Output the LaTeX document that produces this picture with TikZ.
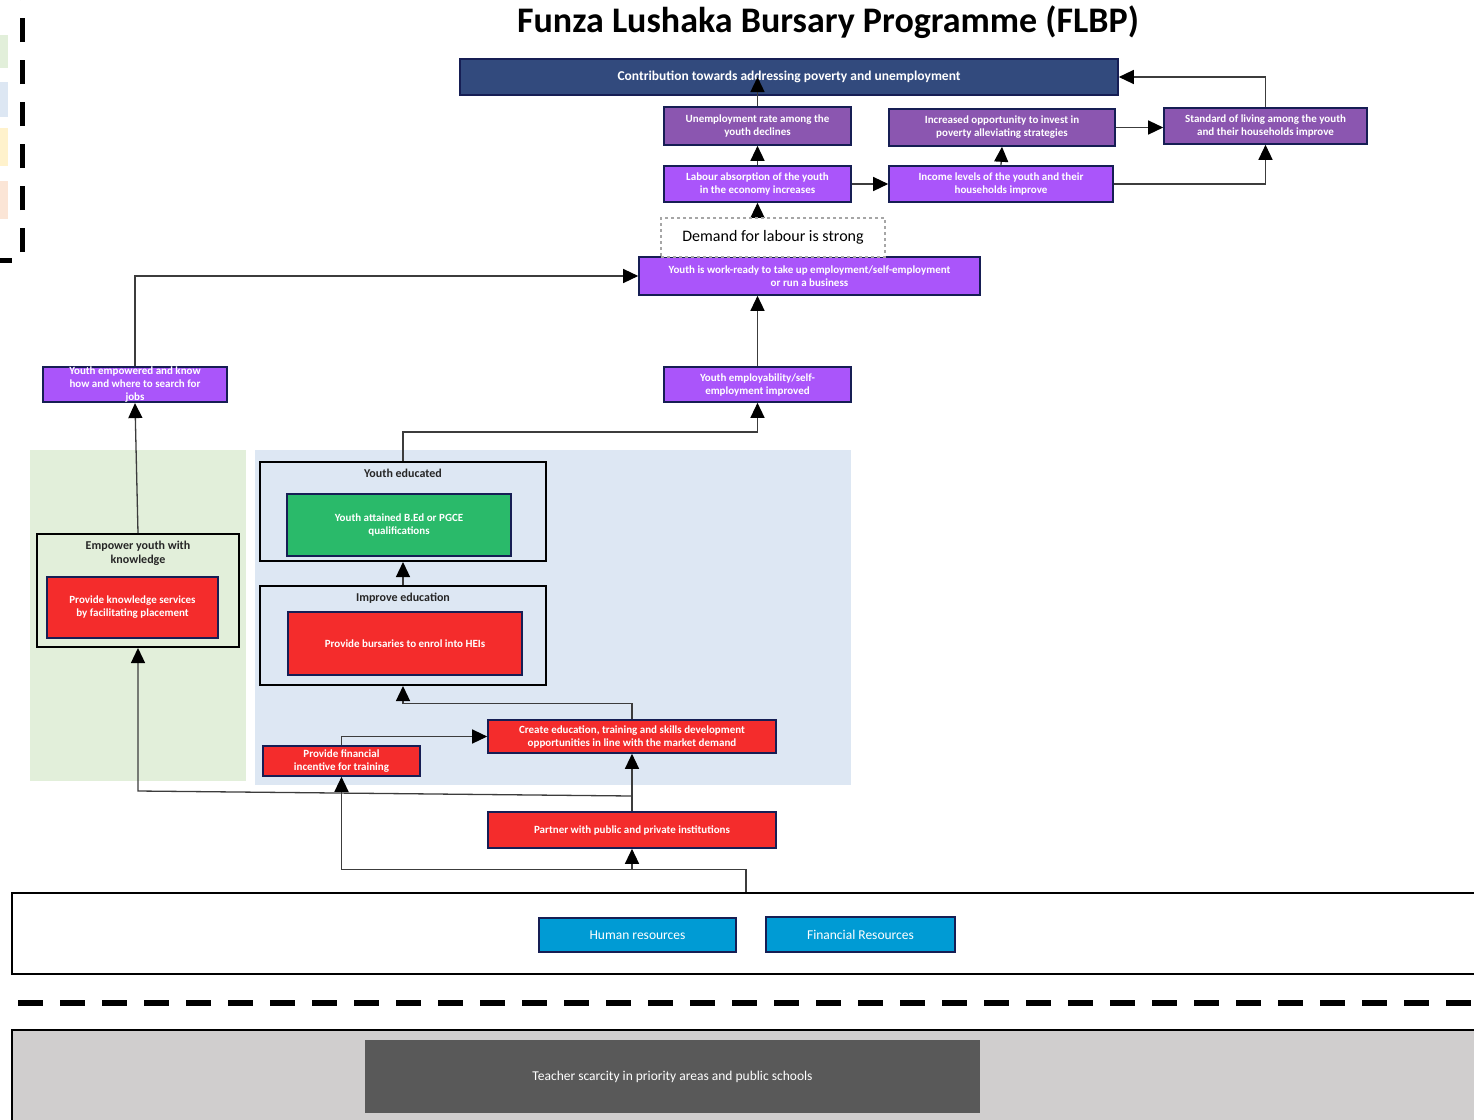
\documentclass[tikz,border=0pt]{standalone}
\usepackage{fontspec}
\setmainfont{Carlito}
\usepackage{tikz}
\usetikzlibrary{arrows.meta, positioning}

\definecolor{impactblue}{RGB}{50,74,125}
\definecolor{outcomepurple}{RGB}{139,86,176}
\definecolor{outputpurple}{RGB}{170,85,250}
\definecolor{activityred}{RGB}{244,44,44}
\definecolor{qualgreen}{RGB}{42,186,106}
\definecolor{resourceblue}{RGB}{0,155,212}
\definecolor{navyline}{RGB}{22,30,84}
\definecolor{linegrey}{RGB}{60,60,60}
\definecolor{knowgreen}{RGB}{226,239,218}
\definecolor{edublue}{RGB}{221,231,243}
\definecolor{keyyellow}{RGB}{255,242,204}
\definecolor{keypink}{RGB}{251,229,214}
\definecolor{contextgrey}{RGB}{208,206,206}
\definecolor{problemgrey}{RGB}{89,89,89}

\begin{document}
\begin{tikzpicture}[x=1pt, y=-1pt]
\tikzstyle{box} = [draw=navyline, line width=1.6pt, text=white, align=center, inner sep=0pt, font=\fontsize{11}{13}\selectfont\bfseries]
\tikzstyle{impact} = [box, fill=impactblue, font=\fontsize{13.5}{15}\selectfont\bfseries]
\tikzstyle{outcome} = [box, fill=outcomepurple]
\tikzstyle{result} = [box, fill=outputpurple]
\tikzstyle{activity} = [box, fill=activityred]
\tikzstyle{qualification} = [box, fill=qualgreen]
\tikzstyle{resource} = [box, fill=resourceblue, font=\fontsize{13.5}{15}\selectfont]
\tikzstyle{group} = [draw=black, line width=2pt, inner sep=0pt]
\tikzstyle{grouptitle} = [anchor=north, align=center, text=black!85, font=\fontsize{12}{14}\selectfont\bfseries]
\tikzstyle{frame} = [draw=black, line width=2.5pt, inner sep=0pt]
\tikzstyle{edge} = [draw=linegrey, line width=1.3pt, -{Triangle[length=15pt,width=14pt,color=black]}]

\clip (0,0) rectangle (1474,1119);

% legend strip, mostly off the page
\fill[knowgreen] (-2,35) rectangle (8,68);
\fill[edublue] (-2,82) rectangle (8,117);
\fill[keyyellow] (-2,128) rectangle (8,166);
\fill[keypink] (-2,181) rectangle (8,219);
\draw[line width=5pt, dash pattern=on 24pt off 18pt] (-12,260) -- (22,260) -- (22,-30);

\node[font=\fontsize{36}{40}\selectfont\bfseries] (title) at (828,22) {Funza Lushaka Bursary Programme (FLBP)};

% backgrounds
\fill[knowgreen] (30,450) rectangle (246,781);
\fill[edublue] (255,450) rectangle (851,785);

\node[impact, minimum width=658, minimum height=36] (contrib) at (789,77) {Contribution towards addressing poverty and unemployment};

\node[outcome, minimum width=187, minimum height=38] (unemp) at (757.5,126) {Unemployment rate among the\\youth declines};
\node[outcome, minimum width=226, minimum height=37] (invest) at (1002,127.5) {Increased opportunity to invest in\\poverty alleviating strategies};
\node[outcome, minimum width=203, minimum height=36] (standard) at (1265.5,126) {Standard of living among the youth\\and their households improve};

\node[result, minimum width=187, minimum height=36] (labour) at (757.5,184) {Labour absorption of the youth\\in the economy increases};
\node[result, minimum width=224, minimum height=36] (income) at (1001,184) {Income levels of the youth and their\\households improve};
\node[result, minimum width=341, minimum height=38] (workready) at (809.5,276) {Youth is work-ready to take up employment/self-employment\\or run a business};
\node[result, minimum width=187, minimum height=35] (employ) at (757.5,384.5) {Youth employability/self-\\employment improved};
\node[result, minimum width=184, minimum height=35] (empowered) at (135,384.5) {Youth empowered and know\\how and where to search for\\jobs};

\node[group, minimum width=202, minimum height=113] (empower) at (138,590.5) {};
\node[grouptitle, below=5pt of empower.north] (empowertitle) {Empower youth with\\knowledge};
\node[activity, minimum width=171, minimum height=61] (knowledge) at (132.5,607.5) {Provide knowledge services\\by facilitating placement};

\node[group, minimum width=286, minimum height=99] (educated) at (403,511.5) {};
\node[grouptitle, below=5pt of educated.north] (educatedtitle) {Youth educated};
\node[qualification, minimum width=224, minimum height=62] (attained) at (399,525) {Youth attained B.Ed or PGCE\\qualifications};

\node[group, minimum width=286, minimum height=99] (improve) at (403,635.5) {};
\node[grouptitle, below=5pt of improve.north] (improvetitle) {Improve education};
\node[activity, minimum width=234, minimum height=63] (bursaries) at (405,643.5) {Provide bursaries to enrol into HEIs};

\node[activity, minimum width=288, minimum height=33] (create) at (632,736.5) {Create education, training and skills development\\opportunities in line with the market demand};
\node[activity, minimum width=157, minimum height=30] (incentive) at (341.5,761) {Provide financial\\incentive for training};
\node[activity, minimum width=288, minimum height=36] (partner) at (632,830) {Partner with public and private institutions};

\node[frame, fill=white, minimum width=1468, minimum height=81] (res) at (746,933.5) {};
\node[resource, minimum width=197, minimum height=34] (human) at (637.5,935) {Human resources};
\node[resource, minimum width=189, minimum height=35] (financial) at (860.5,934.5) {Financial Resources};

\draw[line width=6pt, dash pattern=on 25pt off 17pt] (18,1003) -- (1480,1003);

\node[frame, fill=contextgrey, minimum width=1468, minimum height=95] (context) at (746,1077.5) {};
\node[box, draw=none, fill=problemgrey, font=\fontsize{13.5}{15}\selectfont, minimum width=615, minimum height=73] (scarcity) at (672.5,1076.5) {Teacher scarcity in priority areas and public schools};

\draw[edge] (res.north) -- ++(0,-22) -| (partner.south);
\draw[edge] (res.north) -- ++(0,-22) -| (incentive.south);
\draw[edge] (partner.north) -- (create.south);
\draw[edge] (partner.north |- 0,796) -- (empower.south |- 0,791) -- (empower.south);
\draw[edge] (incentive.north) |- (create.west);
\draw[edge] (create.north) -- ++(0,-16) -| (improve.south);
\draw[edge] (improve.north) -- (educated.south);
\draw[edge] (educated.north) -- ++(0,-29) -| (employ.south);
\draw[edge] (employ.north) -- (employ.north |- workready.south);
\draw[edge] (empower.north) -- (empowered.south);
\draw[edge] (empowered.north) |- (workready.west);
\draw[edge] (labour.south |- workready.north) -- (labour.south);
\draw[edge] (labour.north) -- (unemp.south);
\draw[edge] (unemp.north) -- (unemp.north |- contrib.center);
\draw[edge] (labour.east) -- (income.west);
\draw[edge] (income.north) -- (invest.south);
\draw[edge] (invest.east) -- (invest.east -| standard.west);
\draw[edge] (income.east) -| (standard.south);
\draw[edge] (standard.north) |- (contrib.east);

\node[draw=black!35, dashed, line width=1.2pt, fill=white, minimum width=224, minimum height=39, font=\fontsize{16}{18}\selectfont] (demand) at (773,237.5) {Demand for labour is strong};
\end{tikzpicture}
\end{document}
